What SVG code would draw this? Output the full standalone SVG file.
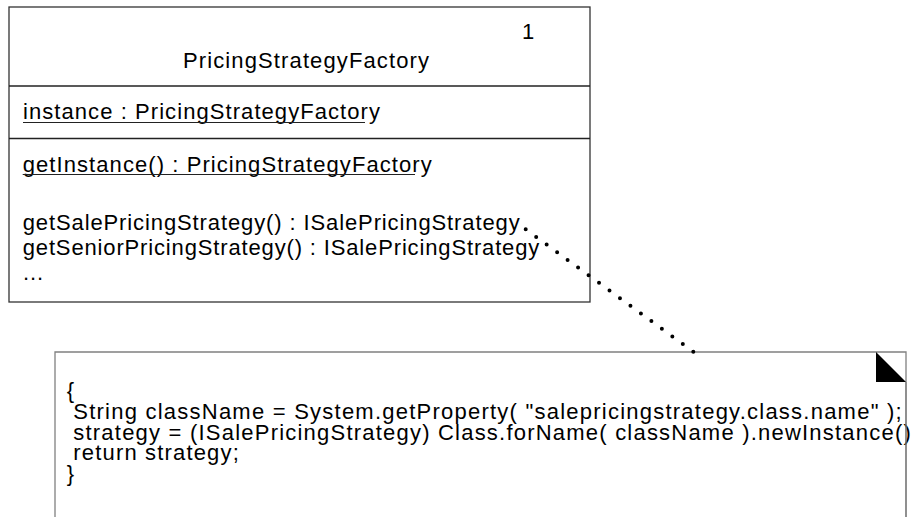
<svg xmlns="http://www.w3.org/2000/svg" width="912" height="517" viewBox="0 0 912 517">
<style>
text{font-family:"Liberation Sans",Arial,sans-serif;font-size:22px;fill:#000}
.box{fill:#fff;stroke:#333;stroke-width:1.3}
.div{stroke:#222;stroke-width:1.3}
.ul{stroke:#222;stroke-width:1.2}
.note{fill:none;stroke:#808080;stroke-width:1.3}
.dots{stroke:#000;stroke-width:4;stroke-linecap:round;stroke-dasharray:0 12.97;fill:none}
</style>
<rect width="912" height="517" fill="#fff"/>
<g id="PricingStrategyFactory">
<rect class="box" x="9" y="7" width="581" height="295"/>
<line class="div" x1="9" y1="86" x2="590" y2="86"/>
<line class="div" x1="9" y1="138.5" x2="590" y2="138.5"/>
<text x="522" y="39">1</text>
<text x="183" y="68" textLength="246" lengthAdjust="spacing">PricingStrategyFactory</text>
<text x="23" y="119" textLength="357" lengthAdjust="spacing">instance : PricingStrategyFactory</text>
<line class="ul" x1="23" y1="122.5" x2="365" y2="122.5"/>
<text x="22.7" y="171.5" textLength="409" lengthAdjust="spacing">getInstance() : PricingStrategyFactory</text>
<line class="ul" x1="22.7" y1="174.5" x2="415" y2="174.5"/>
<text x="22.7" y="230" textLength="497" lengthAdjust="spacing">getSalePricingStrategy() : ISalePricingStrategy</text>
<text x="22.7" y="255" textLength="516.6" lengthAdjust="spacing">getSeniorPricingStrategy() : ISalePricingStrategy</text>
<text x="23" y="280" textLength="20" lengthAdjust="spacing">...</text>
</g>
<g id="note">
<path class="note" d="M55,520 V352 H906 V520"/>
<path d="M876,352 L906,382 L876,382 Z" fill="#000"/>
<text x="66.7" y="398">{</text>
<text x="73.3" y="419" textLength="828.4" lengthAdjust="spacing">String className = System.getProperty( "salepricingstrategy.class.name" );</text>
<text x="73.3" y="439.5" textLength="837.5" lengthAdjust="spacing">strategy = (ISalePricingStrategy) Class.forName( className ).newInstance()</text>
<text x="73.3" y="460" textLength="165.5" lengthAdjust="spacing">return strategy;</text>
<text x="66.7" y="480.5">}</text>
<line x1="906" y1="382" x2="906" y2="520" stroke="#808080" stroke-width="1.3"/>
</g>
<g id="connectors">
<line class="dots" x1="525.7" y1="229.3" x2="693.3" y2="351.7"/>
</g>
</svg>
